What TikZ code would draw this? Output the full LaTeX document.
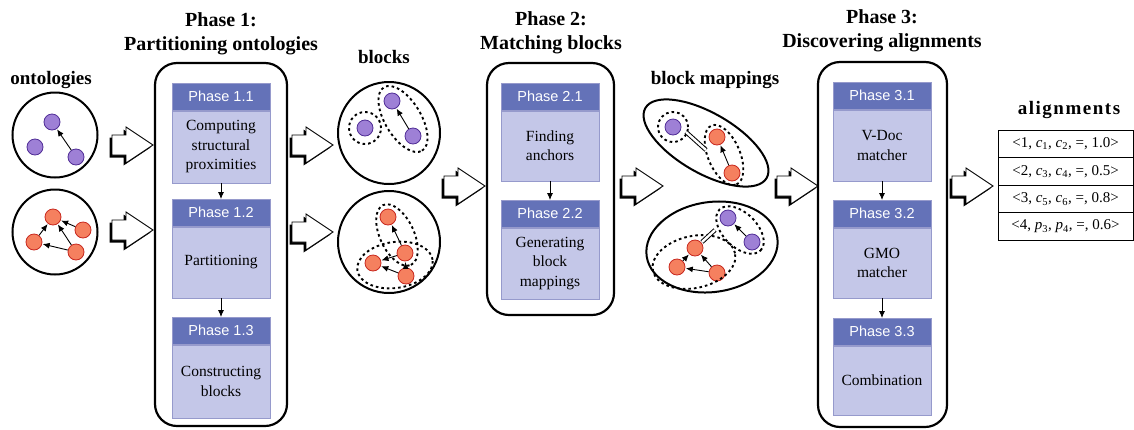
\documentclass[tikz,border=0pt]{standalone}
\usepackage{fontspec}
\setmainfont{Liberation Serif}
\setsansfont{Liberation Sans}
\usetikzlibrary{arrows.meta}
\definecolor{hdrblue}{RGB}{100,114,184}
\definecolor{bodyblue}{RGB}{196,199,232}
\definecolor{bodyline}{RGB}{150,154,204}
\definecolor{pfill}{RGB}{158,128,214}
\definecolor{pdraw}{RGB}{80,45,150}
\definecolor{rfill}{RGB}{245,128,95}
\definecolor{rdraw}{RGB}{200,40,30}
\tikzset{
  hollow/.pic={
    \fill[black, shift={(-2.5,2.5)}] (-41,-10) -- (-27,-10) -- (-27,-18) -- (0,0) -- (-27,18) -- (-27,10) -- (-41,10) -- cycle;
    \filldraw[fill=white, draw=black, line width=0.9pt, line join=miter] (-41,-10) -- (-27,-10) -- (-27,-18) -- (0,0) -- (-27,18) -- (-27,10) -- (-41,10) -- cycle;
  }
}
\begin{document}
\begin{tikzpicture}[x=1pt,y=-1pt,
  title/.style={font=\fontsize{20}{24}\selectfont\bfseries, align=center},
  lbl/.style={font=\fontsize{19}{22}\selectfont\bfseries},
  phasebox/.style={draw=black, line width=2.2pt, rounded corners=22pt, rectangle},
  hdr/.style={rectangle, fill=hdrblue, draw=bodyline, line width=0.5pt, minimum width=98pt, minimum height=27pt, inner sep=0pt, text=white, font=\fontsize{14.5}{17}\selectfont\sffamily},
  bdy/.style={rectangle, fill=bodyblue, draw=bodyline, line width=0.5pt, minimum width=98pt, inner sep=0pt, align=center, font=\fontsize{15.5}{19.5}\selectfont},
  flow/.style={-{Latex[length=7pt,width=6pt]}, line width=0.8pt},
  gnode/.style={circle, minimum size=16pt, inner sep=0pt, line width=0.8pt},
  pnode/.style={gnode, fill=pfill, draw=pdraw},
  rnode/.style={gnode, fill=rfill, draw=rdraw},
  gedge/.style={-{Latex[length=7pt,width=6pt]}, line width=0.9pt, shorten >=0.5pt},
  bigcirc/.style={draw=black, circle, line width=2pt, inner sep=0pt},
  dsh/.style={draw=black, line width=1.9pt, dash pattern=on 2.6pt off 3pt},
  solidell/.style={draw=black, line width=2pt},
  eqline/.style={double=white, double distance=2.4pt, line width=1pt},
  arow/.style={draw=black, line width=0.8pt, minimum width=135pt, minimum height=27.5pt, inner sep=0pt, font=\fontsize{15}{18}\selectfont}
]
\useasboundingbox (0,0) rectangle (1134,429);

% ---------- titles ----------
\node[title] (t1) at (221,34) {Phase 1:\\Partitioning ontologies};
\node[title] (t2) at (551,33) {Phase 2:\\Matching blocks};
\node[title] (t3) at (882,31) {Phase 3:\\Discovering alignments};
\node[lbl] (lo) at (51,80) {ontologies};
\node[lbl] (lb) at (384,57) {blocks};
\node[lbl] (lm) at (715,80) {block mappings};
\node[lbl] (la) at (1069,110) {\addfontfeature{LetterSpace=8}alignments};

% ---------- ontologies ----------
\node[bigcirc, minimum size=85pt] (oc1) at (55,135) {};
\node[bigcirc, minimum size=85pt] (oc2) at (55,232) {};
\node[pnode] (oa) at (52,122) {};
\node[pnode] (ob) at (35,147) {};
\node[pnode] (oc) at (76,157) {};
\draw[gedge] (oc) -- (oa);
\node[rnode] (ra) at (53,217) {};
\node[rnode] (rb) at (83,230) {};
\node[rnode] (rc) at (34,242) {};
\node[rnode] (rd) at (76,252) {};
\draw[gedge] (rb) -- (ra);
\draw[gedge] (rc) -- (ra);
\draw[gedge] (rd) -- (ra);
\draw[gedge] (rd) -- (rc);

\pic at (153,145) {hollow};
\pic at (153,230) {hollow};

% ---------- phase 1 ----------
\node[phasebox, minimum width=132pt, minimum height=363pt] (ph1) at (221,244.5) {};
\node[hdr, anchor=north] (h11) at (221,83) {Phase 1.1};
\node[bdy, anchor=north, minimum height=72pt] (b11) at (h11.south) {Computing\\structural\\proximities};
\node[hdr, anchor=north] (h12) at (221,199) {Phase 1.2};
\node[bdy, anchor=north, minimum height=71pt] (b12) at (h12.south) {Partitioning};
\node[hdr, anchor=north] (h13) at (221,317) {Phase 1.3};
\node[bdy, anchor=north, minimum height=73pt] (b13) at (h13.south) {Constructing\\blocks};
\draw[flow] (b11.south) -- (h12.north);
\draw[flow] (b12.south) -- (h13.north);

\pic at (333,145) {hollow};
\pic at (333,232) {hollow};

% ---------- blocks ----------
\node[bigcirc, minimum size=102pt] (bc1) at (389,133) {};
\node[bigcirc, minimum size=102pt] (bc2) at (389,242) {};
\node[pnode] (ba) at (392,101) {};
\node[pnode] (bb) at (365,128) {};
\node[pnode] (bx) at (413,136) {};
\draw[gedge] (bx) -- (ba);
\draw[dsh] (bb) circle (16pt);
\draw[dsh, rotate around={-59:(403,119)}] (403,119) ellipse [x radius=37pt, y radius=18pt];
\node[rnode] (bd) at (388,217) {};
\node[rnode] (be) at (405,253) {};
\node[rnode] (bf) at (373,263) {};
\node[rnode] (bg) at (406,276) {};
\draw[gedge] (be) -- (bd);
\draw[gedge] (be) -- (bf);
\draw[gedge] (bg) -- (bf);
\draw[gedge] (bg) -- (be);
\draw[dsh, rotate around={-65:(397,235)}] (397,235) ellipse [x radius=33pt, y radius=17pt];
\draw[dsh, rotate around={8:(395,265)}] (395,265) ellipse [x radius=38pt, y radius=23pt];

\pic at (485,186) {hollow};

% ---------- phase 2 ----------
\node[phasebox, minimum width=127pt, minimum height=252pt] (ph2) at (550.5,189) {};
\node[hdr, anchor=north] (h21) at (550,83) {Phase 2.1};
\node[bdy, anchor=north, minimum height=70pt] (b21) at (h21.south) {Finding\\anchors};
\node[hdr, anchor=north] (h22) at (550,200) {Phase 2.2};
\node[bdy, anchor=north, minimum height=71pt] (b22) at (h22.south) {Generating\\block\\mappings};
\draw[flow] (b21.south) -- (h22.north);

\pic at (663,186) {hollow};

% ---------- block mappings ----------
\draw[solidell, rotate around={-30:(706,143)}] (706,143) ellipse [x radius=70pt, y radius=30pt];
\node[pnode] (ma) at (673,127) {};
\node[rnode] (mb) at (717,137) {};
\node[rnode] (mc) at (732,173) {};
\draw[gedge] (mc) -- (mb);
\draw[dsh] (ma) circle (15pt);
\draw[dsh, rotate around={-67:(724,155)}] (724,155) ellipse [x radius=32pt, y radius=16pt];
\coordinate (e1a) at (686,132);
\coordinate (e1b) at (706,150);
\draw[eqline] (e1a) -- (e1b);

\draw[solidell, rotate around={8:(712,247)}] (712,247) ellipse [x radius=66pt, y radius=45pt];
\node[pnode] (md) at (728,218) {};
\node[pnode] (me) at (752,242) {};
\draw[gedge] (me) -- (md);
\draw[dsh, rotate around={-45:(740,230)}] (740,230) ellipse [x radius=29pt, y radius=17pt];
\node[rnode] (mf) at (695,248) {};
\node[rnode] (mg) at (677,267) {};
\node[rnode] (mh) at (717,273) {};
\draw[gedge] (mg) -- (mf);
\draw[gedge] (mh) -- (mf);
\draw[gedge] (mh) -- (mg);
\draw[dsh, rotate around={12:(694,262)}] (694,262) ellipse [x radius=42pt, y radius=26pt];
\coordinate (e2a) at (702,242);
\coordinate (e2b) at (715,230);
\draw[eqline] (e2a) -- (e2b);

\pic at (818,186) {hollow};

% ---------- phase 3 ----------
\node[phasebox, minimum width=129pt, minimum height=365pt] (ph3) at (882.5,244.5) {};
\node[hdr, anchor=north] (h31) at (882,82) {Phase 3.1};
\node[bdy, anchor=north, minimum height=71pt] (b31) at (h31.south) {V-Doc\\matcher};
\node[hdr, anchor=north] (h32) at (882,200) {Phase 3.2};
\node[bdy, anchor=north, minimum height=70pt] (b32) at (h32.south) {GMO\\matcher};
\node[hdr, anchor=north] (h33) at (882,318) {Phase 3.3};
\node[bdy, anchor=north, minimum height=69pt] (b33) at (h33.south) {Combination};
\draw[flow] (b31.south) -- (h32.north);
\draw[flow] (b32.south) -- (h33.north);

\pic at (993,186) {hollow};

% ---------- alignments ----------
\node[arow] (r1) at (1065.5,144) {<1, \textit{c}\textsubscript{1}, \textit{c}\textsubscript{2}, =, 1.0>};
\node[arow] (r2) at (1065.5,171.5) {<2, \textit{c}\textsubscript{3}, \textit{c}\textsubscript{4}, =, 0.5>};
\node[arow] (r3) at (1065.5,199) {<3, \textit{c}\textsubscript{5}, \textit{c}\textsubscript{6}, =, 0.8>};
\node[arow] (r4) at (1065.5,226.5) {<4, \textit{p}\textsubscript{3}, \textit{p}\textsubscript{4}, =, 0.6>};
\end{tikzpicture}
\end{document}
